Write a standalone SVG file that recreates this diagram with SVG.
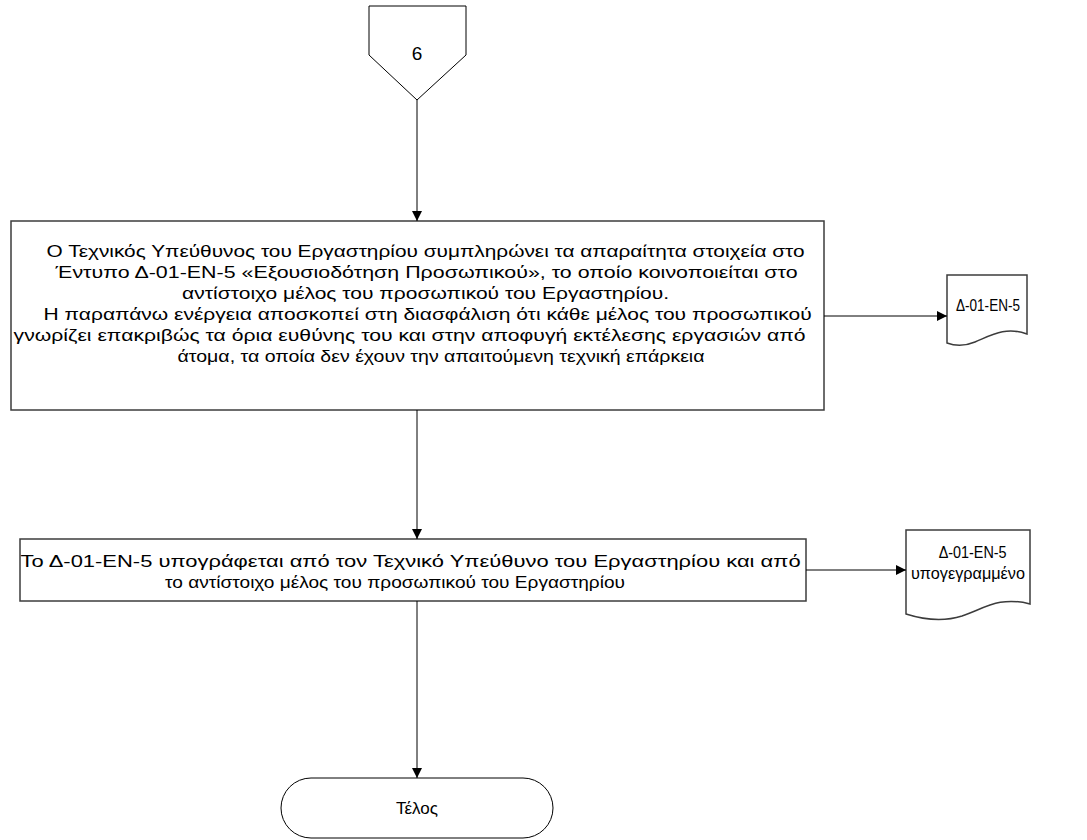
<svg xmlns="http://www.w3.org/2000/svg" width="1087" height="840" viewBox="0 0 1087 840">
  <defs>
    <marker id="arrow" viewBox="0 0 10 10" refX="10" refY="5" markerWidth="10" markerHeight="10" markerUnits="userSpaceOnUse" orient="auto">
      <path d="M0,0 L10,5 L0,10 z" fill="#000"/>
    </marker>
    <style>
      .shape { fill: #fff; stroke: #3c3c3c; stroke-width: 1.5; }
      .thin { fill: #fff; stroke: #000; stroke-width: 1; }
      .lbl { font-family: "Liberation Sans", Arial, sans-serif; font-size: 17px; fill: #000; text-anchor: middle; }
      .conn { fill: none; stroke: #000; stroke-width: 1; marker-end: url(#arrow); }
    </style>
  </defs>
  <rect width="1087" height="840" fill="#fff"/>

  <!-- off-page reference -->
  <g id="offpage-6">
    <polygon class="thin" points="369,6 466,6 466,55 417,100 369,55"/>
    <text class="lbl" x="417" y="60" style="font-size:19px">6</text>
  </g>

  <!-- step: fill in authorisation form -->
  <g id="step-fill-form">
    <rect class="shape" x="11" y="221" width="813" height="189"/>
    <text class="lbl">
      <tspan x="428" y="257" textLength="758" lengthAdjust="spacingAndGlyphs">Ο Τεχνικός Υπεύθυνος του Εργαστηρίου συμπληρώνει τα απαραίτητα στοιχεία στο</tspan>
      <tspan x="429" y="278" textLength="742" lengthAdjust="spacingAndGlyphs">Έντυπο Δ-01-ΕΝ-5 «Εξουσιοδότηση Προσωπικού», το οποίο κοινοποιείται στο</tspan>
      <tspan x="428" y="299" textLength="487" lengthAdjust="spacingAndGlyphs">αντίστοιχο μέλος του προσωπικού του Εργαστηρίου.</tspan>
      <tspan x="430" y="320" textLength="768" lengthAdjust="spacingAndGlyphs">Η παραπάνω ενέργεια αποσκοπεί στη διασφάλιση ότι κάθε μέλος του προσωπικού</tspan>
      <tspan x="412" y="341" textLength="792" lengthAdjust="spacingAndGlyphs">γνωρίζει επακριβώς τα όρια ευθύνης του και στην αποφυγή εκτέλεσης εργασιών από</tspan>
      <tspan x="441" y="362" textLength="527" lengthAdjust="spacingAndGlyphs">άτομα, τα οποία δεν έχουν την απαιτούμενη τεχνική επάρκεια</tspan>
    </text>
  </g>

  <!-- document: form -->
  <g id="doc-form">
    <path class="shape" d="M947,275 H1027 V334 C1005,326 990,336 975,342 C963,347 955,346 947,343 Z"/>
    <text class="lbl" x="988" y="311" textLength="64" lengthAdjust="spacingAndGlyphs">Δ-01-ΕΝ-5</text>
  </g>

  <!-- step: signing -->
  <g id="step-sign">
    <rect class="shape" x="20" y="539" width="786" height="62"/>
    <text class="lbl">
      <tspan x="413" y="567" textLength="780" lengthAdjust="spacingAndGlyphs">Το Δ-01-ΕΝ-5 υπογράφεται από τον Τεχνικό Υπεύθυνο του Εργαστηρίου και από</tspan>
      <tspan x="395" y="588" textLength="460" lengthAdjust="spacingAndGlyphs">το αντίστοιχο μέλος του προσωπικού του Εργαστηρίου</tspan>
    </text>
  </g>

  <!-- document: signed form -->
  <g id="doc-signed">
    <path class="shape" d="M906,530 H1030 V604 C1000,596 985,608 962,616 C943,622 925,620 906,614 Z"/>
    <text class="lbl">
      <tspan x="975" y="558" textLength="68" lengthAdjust="spacingAndGlyphs">Δ-01-ΕΝ-5</tspan>
      <tspan x="968" y="579" textLength="114" lengthAdjust="spacingAndGlyphs">υπογεγραμμένο</tspan>
    </text>
  </g>

  <!-- terminator -->
  <g id="end">
    <rect class="thin" x="281" y="778" width="272" height="60" rx="30" ry="30"/>
    <text class="lbl" x="417" y="814">Τέλος</text>
  </g>

  <!-- connectors -->
  <g id="connectors">
    <line class="conn" x1="417" y1="100" x2="417" y2="221"/>
    <line class="conn" x1="824" y1="316" x2="947" y2="316"/>
    <line class="conn" x1="417" y1="410" x2="417" y2="539"/>
    <line class="conn" x1="806" y1="570" x2="906" y2="570"/>
    <line class="conn" x1="417" y1="601" x2="417" y2="778"/>
  </g>
</svg>
